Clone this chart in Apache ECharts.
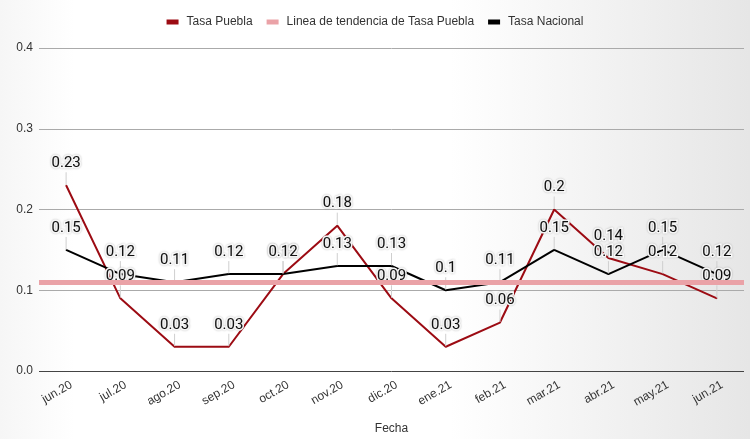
<!DOCTYPE html>
<html>
<head>
<meta charset="utf-8">
<script src="https://cdn.jsdelivr.net/npm/echarts@6/dist/echarts.min.js"></script>
<style>
html, body { margin: 0; padding: 0; }
#chart { width: 750px; height: 439px; }
</style>
</head>
<body>
<div id="chart"></div>
<script>
var meses = ['jun.20', 'jul.20', 'ago.20', 'sep.20', 'oct.20', 'nov.20', 'dic.20', 'ene.21', 'feb.21', 'mar.21', 'abr.21', 'may.21', 'jun.21'];
var tasaPuebla = [0.23, 0.09, 0.03, 0.03, 0.12, 0.18, 0.09, 0.03, 0.06, 0.2, 0.14, 0.12, 0.09];
var tasaNacional = [0.15, 0.12, 0.11, 0.12, 0.12, 0.13, 0.13, 0.1, 0.11, 0.15, 0.12, 0.15, 0.12];
var tendenciaPuebla = 0.1075;

var myChart = echarts.init(document.getElementById('chart'));

// etiqueta de datos con su linea guia
var etiqueta = {
	show: true,
	position: 'top',
	distance: 4,
	fontFamily: 'Roboto',
	fontSize: 15,
	color: '#111',
	textBorderColor: '#fff',
	textBorderWidth: 3,
	textShadowColor: 'rgba(0,0,0,0.25)',
	textShadowBlur: 2
};
var guia = { show: true, lineStyle: { color: '#cfcfcf', width: 1 } };

var option = {
	backgroundColor: {
		type: 'linear', x: 0, y: 0, x2: 1, y2: 0,
		colorStops: [
			{ offset: 0, color: '#f6f6f6' },
			{ offset: 0.1, color: '#ffffff' },
			{ offset: 0.6, color: '#ffffff' },
			{ offset: 1, color: '#e6e6e6' }
		]
	},
	textStyle: { fontFamily: 'Liberation Sans' },
	legend: {
		top: 11,
		left: 'center',
		itemWidth: 12,
		itemHeight: 5,
		itemGap: 14,
		textStyle: { fontSize: 12, color: '#333', padding: [0, 0, 0, 3] },
		data: [
			{ name: 'Tasa Puebla', icon: 'rect' },
			{ name: 'Linea de tendencia de Tasa Puebla', icon: 'rect' },
			{ name: 'Tasa Nacional', icon: 'rect' }
		]
	},
	grid: { left: 39, right: 6, top: 48, bottom: 68, outerBoundsMode: 'none', containLabel: false },
	xAxis: {
		type: 'category',
		data: meses,
		boundaryGap: true,
		name: 'Fecha',
		nameLocation: 'middle',
		nameGap: 52,
		nameTextStyle: { fontSize: 12, color: '#333' },
		axisLine: { show: false },
		axisTick: { show: false },
		axisLabel: { rotate: 30, fontSize: 12, color: '#333', margin: 16, padding: [0, -6, 0, 0] }
	},
	yAxis: {
		type: 'value',
		min: 0,
		max: 0.4,
		interval: 0.1,
		axisLine: { show: false },
		axisTick: { show: false },
		axisLabel: {
			fontSize: 12,
			color: '#333',
			margin: 6,
			formatter: function (v) { return v.toFixed(1); }
		},
		splitLine: {
			lineStyle: {
				color: ['#444', '#aaa', '#aaa', '#aaa', '#aaa'],
				width: 1
			}
		}
	},
	series: [
		{
			name: 'Linea de tendencia de Tasa Puebla',
			type: 'line',
			data: [],
			color: '#eaa2a7',
			silent: true,
			markLine: {
				symbol: 'none',
				silent: true,
				label: { show: false },
				lineStyle: { color: '#eaa2a7', width: 5, type: 'solid' },
				data: [{ yAxis: tendenciaPuebla }]
			}
		},
		{
			name: 'Tasa Puebla',
			type: 'line',
			data: tasaPuebla,
			color: '#9c0b13',
			symbol: 'circle',
			symbolSize: 1,
			lineStyle: { width: 2 },
			label: etiqueta,
			labelLine: guia,
			labelLayout: { dy: -10 }
		},
		{
			name: 'Tasa Nacional',
			type: 'line',
			data: tasaNacional,
			color: '#000',
			symbol: 'circle',
			symbolSize: 1,
			lineStyle: { width: 2 },
			label: etiqueta,
			labelLine: guia,
			labelLayout: { dy: -10 }
		}
	]
};
myChart.setOption(option);
</script>
</body>
</html>
